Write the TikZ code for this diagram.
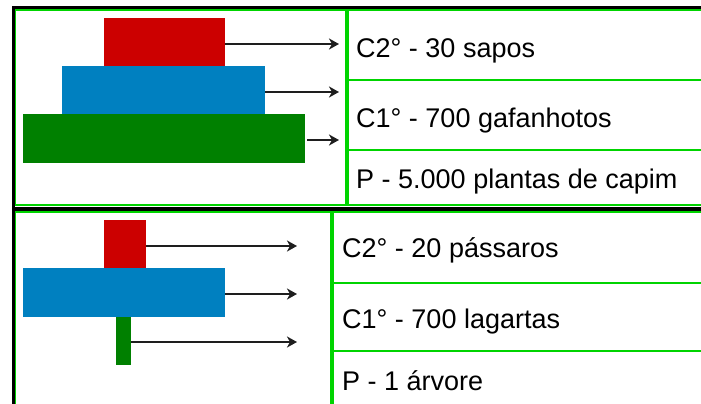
\documentclass[tikz,border=0pt]{standalone}
\usepackage{fontspec}
\setmainfont{Liberation Sans}
\usetikzlibrary{arrows.meta}
\definecolor{pred}{HTML}{CC0000}
\definecolor{pblue}{HTML}{0080C0}
\definecolor{pgreen}{HTML}{008000}
\definecolor{cellgreen}{HTML}{00D400}
\definecolor{arrowgray}{HTML}{1E1E1E}
\begin{document}
\begin{tikzpicture}[x=1pt,y=-1pt,
  bar/.style={draw=none,inner sep=0pt,outer sep=0pt},
  arr/.style={draw=arrowgray,line width=2.6pt,-{Stealth[length=10pt,width=11pt,inset=3pt]}},
  cell/.style={draw=cellgreen,line width=2.2pt},
  outer/.style={draw=black,line width=3pt},
  lab/.style={anchor=base west,inner sep=0pt,font=\fontsize{27}{30}\selectfont}]
\clip (0,0) rectangle (701,404);
\fill[white] (0,0) rectangle (701,404);
% top table
\draw[cell] (15,10) rectangle (346,205);
\draw[cell] (348,10) rectangle (710,80);
\draw[cell] (348,80) rectangle (710,150);
\draw[cell] (348,150) rectangle (710,205);
\draw[outer] (710,7.5) -- (13,7.5) -- (13,208.5) -- (710,208.5);
% bottom table
\draw[cell] (15,212) rectangle (331,420);
\draw[cell] (333,212) rectangle (710,283);
\draw[cell] (333,283) rectangle (710,351);
\draw[cell] (333,351) rectangle (710,420);
\draw[outer] (710,209.5) -- (13,209.5) -- (13,420);
% top pyramid
\node[bar,fill=pred,minimum width=121pt,minimum height=48pt] (r1) at (164.5,42) {};
\node[bar,fill=pblue,minimum width=203pt,minimum height=48pt] (b1) at (163.5,90) {};
\node[bar,fill=pgreen,minimum width=282pt,minimum height=49pt] (g1) at (164,138.5) {};
\coordinate (a1) at (339,44);
\coordinate (a2) at (339,92);
\coordinate (a3) at (339,140);
\draw[arr] (r1.east |- a1) -- (a1);
\draw[arr] (b1.east |- a2) -- (a2);
\draw[arr] ([xshift=2pt]g1.east |- a3) -- (a3);
\node[lab] (t1) at (356,57) {C2° - 30 sapos};
\node[lab] (t2) at (356,127) {C1° - 700 gafanhotos};
\node[lab] (t3) at (356,188) {P - 5.000 plantas de capim};
% bottom pyramid
\node[bar,fill=pred,minimum width=41.5pt,minimum height=48pt] (r2) at (124.75,244) {};
\node[bar,fill=pblue,minimum width=202pt,minimum height=49pt] (b2) at (124,292.5) {};
\node[bar,fill=pgreen,minimum width=15pt,minimum height=48pt] (g2) at (123.5,341) {};
\coordinate (a4) at (297,246);
\coordinate (a5) at (297,294);
\coordinate (a6) at (297,342);
\draw[arr] (r2.east |- a4) -- (a4);
\draw[arr] (b2.east |- a5) -- (a5);
\draw[arr] (g2.east |- a6) -- (a6);
\node[lab] (t4) at (342,257) {C2° - 20 pássaros};
\node[lab] (t5) at (342,328) {C1° - 700 lagartas};
\node[lab] (t6) at (342,390) {P - 1 árvore};
\end{tikzpicture}
\end{document}
